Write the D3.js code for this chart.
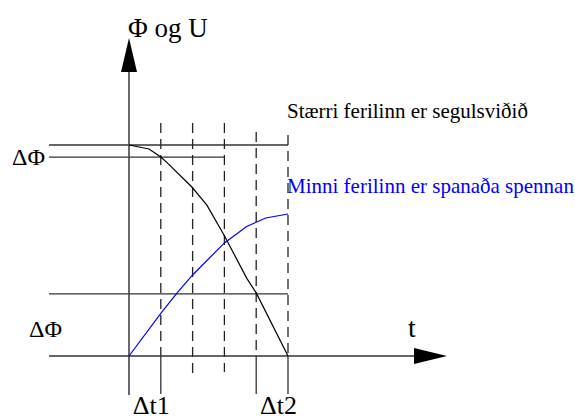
<!DOCTYPE html>
<html><head><meta charset="utf-8"><script src="https://cdn.jsdelivr.net/npm/d3@7"></script></head>
<body style="margin:0">
<script>

//
// DATA
//

// time steps marked by the vertical lines
const steps = [1, 2, 3, 4, 5];
const stepLabels = ['Δt1', '', '', '', 'Δt2'];

// the bigger curve, the magnetic field
const phiT = [0, 0.63, 1, 1.18, 1.97, 2.45, 3, 3.7, 4, 5];
const phiV = [1, 0.981, 0.943, 0.919, 0.802, 0.715, 0.57, 0.369, 0.299, 0];

// the smaller curve, the induced voltage
const uT = [0, 1, 1.5, 2, 3, 3.7, 4.3, 5];
const uV = [0, 0.202, 0.297, 0.384, 0.536, 0.614, 0.654, 0.673];

// helper levels and the step where each one stops
const levels = [1, 0.943, 0.294];
const levelEnds = [5, 3, 5];

//
// SETUP
//

const svg = d3.select('body').append('svg').attr('width', 575).attr('height', 419);

// scales
const x = d3.scaleLinear()
    .domain([0, 5])
    .range([129, 288]);
const y = d3.scaleLinear()
    .domain([0, 1])
    .range([356, 145]);

//
// TEXT (drawn first)
//

const texts = [
    {str: 'Φ og U', tx: x(0) - 1, ty: 37, size: 27, fill: '#000'},
    {str: 'ΔΦ', tx: 12, ty: 165, size: 24, fill: '#000'},
    {str: 'ΔΦ', tx: 29, ty: 337, size: 24, fill: '#000'},
    {str: 't', tx: 408, ty: 337, size: 28, fill: '#000'},
    {str: 'Stærri ferilinn er segulsviðið', tx: x(5) - 1, ty: 118, size: 21, fill: '#000'},
    {str: 'Minni ferilinn er spanaða spennan', tx: x(5) - 1, ty: 193, size: 21, fill: '#0000ff'}
];
steps.forEach((s, i) => {
    if (stepLabels[i] != '') {
        texts.push({str: stepLabels[i], tx: x(s) - 28, ty: 414, size: 26, fill: '#000'});
    }
});

svg.selectAll('text').data(texts).join('text')
    .attr('x', d => d.tx).attr('y', d => d.ty)
    .attr('font-size', d => d.size)
    .style('font-family', d => `'Liberation Serif'`)
    .attr('fill', d => d.fill)
    .text(d => d.str);

//
// LINES
//

const line = d3.line()
    .x(d => x(d[0]))
    .y(d => y(d[1]));

const axisColor = '#333';
const leftEdge = x.invert(49);

// horizontal helper lines
svg.selectAll('.level')
    .data(levels)
    .join('line')
        .attr('class', 'level')
        .attr('x1', x(leftEdge))
        .attr('x2', (d, i) => x(levelEnds[i]))
        .attr('y1', d => y(d))
        .attr('y2', d => y(d))
        .attr('stroke', axisColor)
        .attr('stroke-width', 1.3);

// vertical dashed lines, above the axis
const tops = [123, 123, 123, 132, 135];
const dashBottoms = [356, 375, 372, 356, 356];
svg.selectAll('.step')
    .data(steps)
    .join('line')
        .attr('class', 'step')
        .attr('x1', d => x(d))
        .attr('x2', d => x(d))
        .attr('y1', (d, i) => tops[i])
        .attr('y2', (d, i) => dashBottoms[i])
        .attr('stroke', '#222')
        .attr('stroke-width', 1.3)
        .attr('stroke-dasharray', '10,6');

// solid ticks below the axis
svg.selectAll('.tick-solid')
    .data(steps.filter((d, i) => dashBottoms[i] == y(0)))
    .join('line')
        .attr('class', 'tick-solid')
        .attr('x1', d => x(d))
        .attr('x2', d => x(d))
        .attr('y1', y(0))
        .attr('y2', 394)
        .attr('stroke', axisColor)
        .attr('stroke-width', 1.3);

// vertical axis with arrow
svg.append('line')
    .attr('x1', x(0))
    .attr('x2', x(0))
    .attr('y1', 395)
    .attr('y2', 72)
    .attr('stroke', '#444')
    .attr('stroke-width', 1.6);
svg.append('path')
    .attr('d', d3.line()([[x(0) - 8, 72], [x(0), 38], [x(0) + 8, 72]]) + 'Z')
    .attr('fill', '#000');

// horizontal axis with arrow
svg.append('line')
    .attr('x1', x(leftEdge))
    .attr('x2', 414)
    .attr('y1', y(0))
    .attr('y2', y(0))
    .attr('stroke', axisColor)
    .attr('stroke-width', 1.3);
svg.append('path')
    .attr('d', d3.line()([[414, y(0) - 8], [447, y(0)], [414, y(0) + 8]]) + 'Z')
    .attr('fill', '#000');

// curves
svg.append('path')
    .datum(phiT.map((t, i) => [t, phiV[i]]))
        .attr('fill', 'none')
        .attr('stroke', '#000')
        .attr('stroke-width', 1.2)
        .attr('d', line);

svg.append('path')
    .datum(uT.map((t, i) => [t, uV[i]]))
        .attr('fill', 'none')
        .attr('stroke', '#0000ff')
        .attr('stroke-width', 1.2)
        .attr('d', line);

</script></body></html>
